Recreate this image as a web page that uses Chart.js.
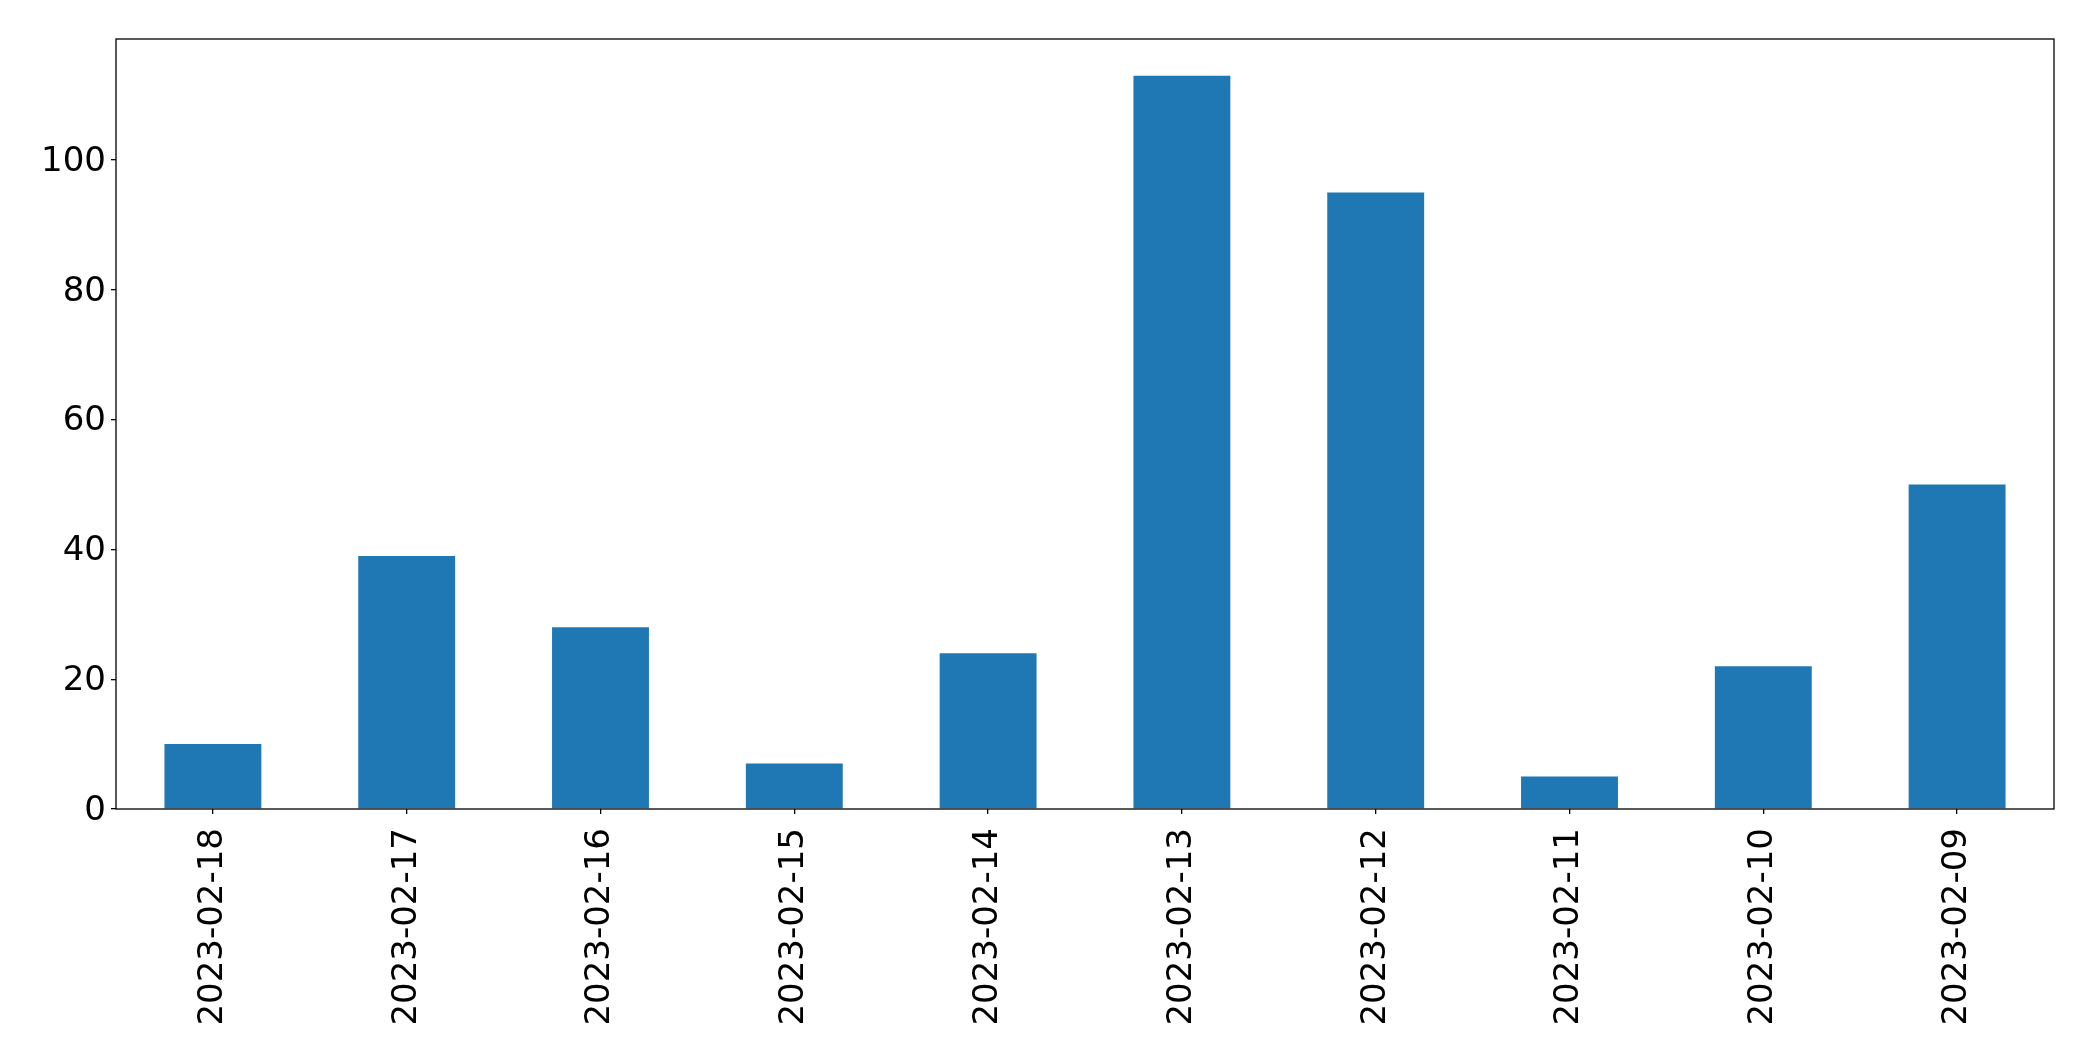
<!DOCTYPE html>
<html>
<head>
<meta charset="utf-8">
<script src="https://cdn.jsdelivr.net/npm/chart.js@4"></script>
<style>
  html, body { margin: 0; padding: 0; background: #fff; }
  #wrap { width: 2093px; height: 1061px; position: relative; }
</style>
</head>
<body>
<div id="wrap"><canvas id="chart"></canvas></div>
<script>
'use strict';
// data
const dates = ['2023-02-18', '2023-02-17', '2023-02-16', '2023-02-15', '2023-02-14',
               '2023-02-13', '2023-02-12', '2023-02-11', '2023-02-10', '2023-02-09'];
const counts = [10, 39, 28, 7, 24, 113, 95, 5, 22, 50];
const yTicks = [0, 20, 40, 60, 80, 100];

let canvasElem = document.getElementById('chart');

// draws the box round the plot like matplotlib does
const frame = {
  id: 'frame',
  afterDatasetsDraw(chart) {
    const a = chart.chartArea;
    const ctx = chart.ctx;
    ctx.save();
    ctx.strokeStyle = '#000';
    ctx.lineWidth = 1.3;
    ctx.strokeRect(a.left, a.top, a.right - a.left, a.bottom - a.top);
    ctx.restore();
  }
};

const tickFont = { family: 'DejaVu Sans', size: 34 };

function renderChart() {
  const data = {
    labels: dates,
    datasets: [{
      data: counts,
      backgroundColor: '#1f77b4',
      borderWidth: 0,
      barPercentage: 0.5,
      categoryPercentage: 1.0,
    }]
  };
  const chartConfig = {
    type: 'bar',
    data: data,
    options: {
      responsive: true,
      maintainAspectRatio: false,
      animation: false,
      layout: { padding: { top: 39, right: 39, left: 0, bottom: 0 } },
      plugins: { legend: { display: false }, tooltip: { enabled: false } },
      scales: {
        x: {
          offset: true,
          grid: { offset: false, drawOnChartArea: false, drawTicks: true, tickLength: 5, color: '#000', lineWidth: 1.3 },
          border: { display: false },
          ticks: { font: tickFont, color: '#000', autoSkip: false, maxRotation: 90, minRotation: 90, padding: 14 },
          afterFit(scale) { scale.height = 252; },
        },
        y: {
          min: 0,
          max: 118.65,
          grid: { drawOnChartArea: false, drawTicks: true, tickLength: 5, color: '#000', lineWidth: 1.3 },
          border: { display: false },
          ticks: { font: tickFont, color: '#000', padding: 5, labelOffset: 2 },
          afterBuildTicks(scale) { scale.ticks = yTicks.map(v => ({ value: v })); },
          afterFit(scale) { scale.width = 116; },
        },
      },
    },
    plugins: [frame],
  };
  const myChart = new Chart(canvasElem, chartConfig);
}
renderChart();
</script>
</body>
</html>
